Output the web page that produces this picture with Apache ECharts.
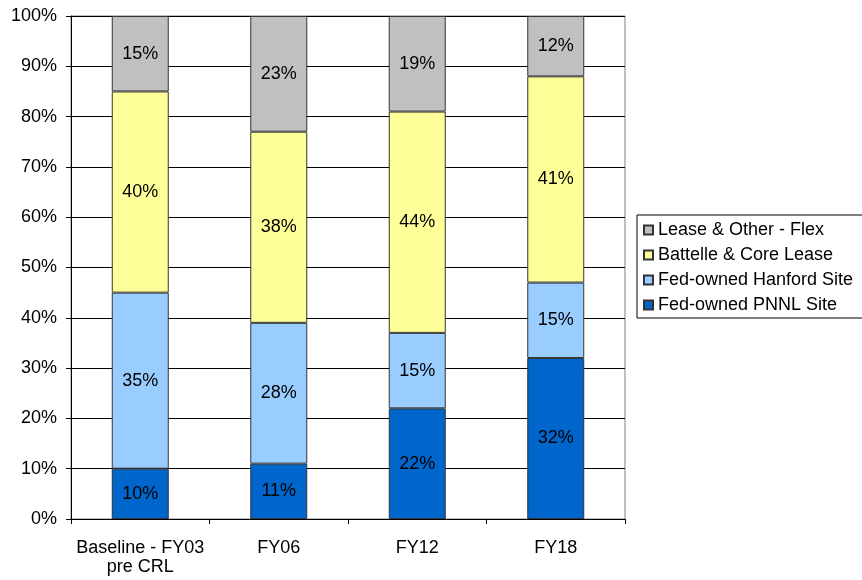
<!DOCTYPE html>
<html>
<head>
<meta charset="utf-8">
<script src="https://cdn.jsdelivr.net/npm/echarts@6/dist/echarts.min.js"></script>
<style>
  html, body { margin: 0; padding: 0; background: #fff; }
  #chart { width: 862px; height: 580px; }
</style>
</head>
<body>
<div id="chart"></div>
<script>
const categories = ['Baseline - FY03\npre CRL', 'FY06', 'FY12', 'FY18']
const pnnlSite = [10, 11, 22, 32]
const hanfordSite = [35, 28, 15, 15]
const battelleCore = [40, 38, 44, 41]
const leaseOther = [15, 23, 19, 12]
const yTicks = [0, 10, 20, 30, 40, 50, 60, 70, 80, 90, 100]

const font = 'Liberation Sans, Arial, sans-serif'

const makeSeries = (name, data, color) => ({
  name: name,
  type: 'bar',
  stack: 'total',
  data: data,
  barWidth: 57,
  itemStyle: { color: color, borderColor: '#333', borderWidth: 1 },
  label: {
    show: true,
    position: 'inside',
    formatter: '{c}%',
    color: '#000',
    fontFamily: font,
    fontSize: 18
  }
})

const chart = echarts.init(document.getElementById('chart'))

const option = {
  animation: false,
  backgroundColor: '#fff',
  grid: {
    left: 71, right: 237, top: 16, bottom: 61,
    show: true,
    borderColor: '#808080',
    borderWidth: 1
  },
  legend: {
    orient: 'vertical',
    left: 637,
    top: 215,
    data: ['Lease & Other - Flex', 'Battelle & Core Lease', 'Fed-owned Hanford Site', 'Fed-owned PNNL Site'],
    icon: 'rect',
    itemWidth: 9,
    itemHeight: 9,
    itemGap: 5,
    padding: [5, 20, 3, 6],
    borderColor: '#000',
    borderWidth: 1,
    textStyle: { color: '#000', fontFamily: font, fontSize: 18, lineHeight: 20 }
  },
  xAxis: {
    type: 'category',
    data: categories,
    axisLine: { lineStyle: { color: '#000' } },
    axisTick: { show: true, length: 5, lineStyle: { color: '#000' } },
    axisLabel: { color: '#000', fontFamily: font, fontSize: 18, lineHeight: 19, margin: 20, interval: 0 }
  },
  yAxis: {
    type: 'value',
    min: 0,
    max: 100,
    interval: 10,
    axisLine: { show: true, lineStyle: { color: '#000' } },
    axisTick: { show: true, length: 5, lineStyle: { color: '#000' } },
    splitLine: { lineStyle: { color: '#000', width: 1 } },
    axisLabel: {
      color: '#000', fontFamily: font, fontSize: 18, margin: 14,
      formatter: v => yTicks.includes(v) ? v + '%' : ''
    }
  },
  series: [
    makeSeries('Fed-owned PNNL Site', pnnlSite, '#0066CC'),
    makeSeries('Fed-owned Hanford Site', hanfordSite, '#99CCFF'),
    makeSeries('Battelle & Core Lease', battelleCore, '#FFFF99'),
    makeSeries('Lease & Other - Flex', leaseOther, '#C0C0C0')
  ]
}

chart.setOption(option)
</script>
</body>
</html>
